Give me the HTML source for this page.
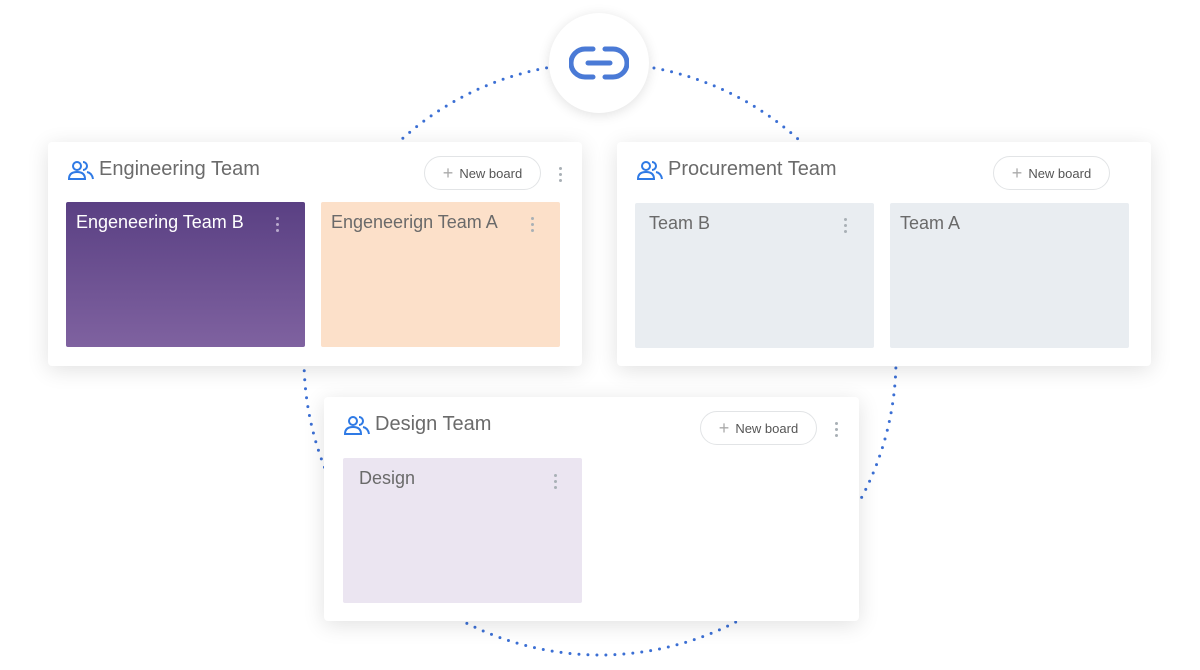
<!DOCTYPE html>
<html><head><style>
body{margin:0;width:1200px;height:670px;background:#fff;position:relative;overflow:hidden;font-family:"Liberation Sans",sans-serif}
.card{position:absolute;background:#fff;border-radius:4px;box-shadow:0 4px 22px rgba(0,0,0,.12)}
.title{position:absolute;left:20px;top:16px;font-size:20px;color:#6b6b6b;display:flex;align-items:center;gap:5px}
.btn{position:absolute;border:1px solid #e2e4e6;border-radius:18px;height:32px;width:115px;font-size:13px;color:#555;display:flex;align-items:center;justify-content:center;gap:6px;background:#fff}
.btn span{color:#aaa;font-size:18px}
.kb{position:absolute;width:3px}
.kb i{display:block;width:3px;height:3px;border-radius:50%;background:#a9b0b6;margin-bottom:3px}
.board{position:absolute;width:239px;height:145px;border-radius:2px}
.bt{position:absolute;left:10px;top:10px;font-size:18px;color:#6a6a6a}
</style></head><body>
<svg width="1200" height="670" style="position:absolute;left:0;top:0">
<circle cx="600" cy="359" r="296" fill="none" stroke="#3b6fd4" stroke-width="3" stroke-dasharray="0 9" stroke-linecap="round"/>
</svg>
<div style="position:absolute;left:549px;top:13px;width:100px;height:100px;border-radius:50%;background:#fff;box-shadow:0 2px 12px rgba(0,0,0,.12)"></div>
<svg width="60" height="40" style="position:absolute;left:569px;top:43px" viewBox="0 0 60 40">
<path d="M24 6 H16 A14 14 0 0 0 16 34 H24" fill="none" stroke="#4a7ad6" stroke-width="5" stroke-linecap="round"/>
<path d="M36 6 H44 A14 14 0 0 1 44 34 H36" fill="none" stroke="#4a7ad6" stroke-width="5" stroke-linecap="round"/>
<path d="M19 20 H41" stroke="#4a7ad6" stroke-width="5" stroke-linecap="round"/>
</svg>

<!-- Engineering -->
<div class="card" style="left:48px;top:142px;width:534px;height:224px">
<div class="title"><svg width="26" height="20" viewBox="0 0 26 20"><circle cx="9" cy="6" r="4" fill="none" stroke="#2f7ae5" stroke-width="2"/><path d="M1 19 Q1 12 9 12 Q17 12 17 19 Z" fill="none" stroke="#2f7ae5" stroke-width="2"/><path d="M15 2 A4 4 0 0 1 15 10 M19 12 Q24 13 25 19" fill="none" stroke="#2f7ae5" stroke-width="2"/></svg>Engineering Team</div>
<div class="btn" style="left:376px;top:14px"><span>+</span>New board</div>
<div class="kb" style="left:511px;top:25px"><i></i><i></i><i></i></div>
<div class="board" style="left:18px;top:60px;background:linear-gradient(#5a4083,#7f62a0)"><div class="bt" style="color:#fff">Engeneering Team B</div><div class="kb" style="left:210px;top:15px"><i style="background:#b9aacd"></i><i style="background:#b9aacd"></i><i style="background:#b9aacd"></i></div></div>
<div class="board" style="left:273px;top:60px;background:#fce0c9"><div class="bt">Engeneerign Team A</div><div class="kb" style="left:210px;top:15px"><i></i><i></i><i></i></div></div>
</div>

<!-- Procurement -->
<div class="card" style="left:617px;top:142px;width:534px;height:224px">
<div class="title"><svg width="26" height="20" viewBox="0 0 26 20"><circle cx="9" cy="6" r="4" fill="none" stroke="#2f7ae5" stroke-width="2"/><path d="M1 19 Q1 12 9 12 Q17 12 17 19 Z" fill="none" stroke="#2f7ae5" stroke-width="2"/><path d="M15 2 A4 4 0 0 1 15 10 M19 12 Q24 13 25 19" fill="none" stroke="#2f7ae5" stroke-width="2"/></svg>Procurement Team</div>
<div class="btn" style="left:376px;top:14px"><span>+</span>New board</div>
<div class="board" style="left:18px;top:61px;background:#e9edf1"><div class="bt" style="left:14px">Team B</div><div class="kb" style="left:209px;top:15px"><i></i><i></i><i></i></div></div>
<div class="board" style="left:273px;top:61px;background:#e9edf1"><div class="bt">Team A</div></div>
</div>

<!-- Design -->
<div class="card" style="left:324px;top:397px;width:535px;height:224px">
<div class="title"><svg width="26" height="20" viewBox="0 0 26 20"><circle cx="9" cy="6" r="4" fill="none" stroke="#2f7ae5" stroke-width="2"/><path d="M1 19 Q1 12 9 12 Q17 12 17 19 Z" fill="none" stroke="#2f7ae5" stroke-width="2"/><path d="M15 2 A4 4 0 0 1 15 10 M19 12 Q24 13 25 19" fill="none" stroke="#2f7ae5" stroke-width="2"/></svg>Design Team</div>
<div class="btn" style="left:376px;top:14px"><span>+</span>New board</div>
<div class="kb" style="left:511px;top:25px"><i></i><i></i><i></i></div>
<div class="board" style="left:19px;top:61px;background:#ebe5f1"><div class="bt" style="left:16px">Design</div><div class="kb" style="left:211px;top:16px"><i></i><i></i><i></i></div></div>
</div>
</body></html>
